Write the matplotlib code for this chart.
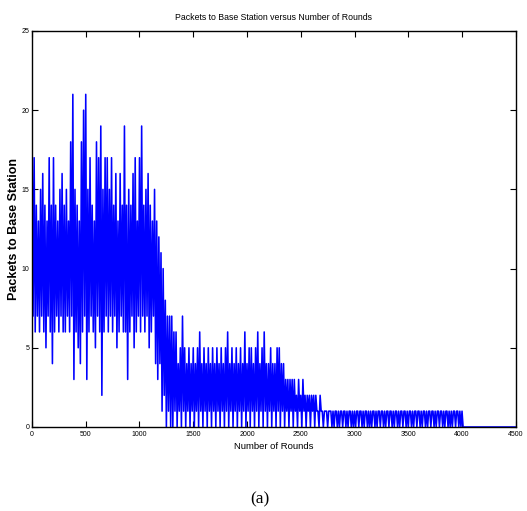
import numpy as np
import matplotlib
matplotlib.use("Agg")
import matplotlib.pyplot as plt

phase_high = [  # rounds 0 - 1140
    19, 7, 17, 6, 14, 7, 13, 6, 15, 7,
    16, 6, 14, 5, 13, 7, 17, 6, 14, 4,
    17, 6, 14, 7, 13, 6, 15, 7, 16, 6,
    14, 6, 15, 7, 13, 6, 18, 7, 21, 3,
    15, 6, 14, 5, 13, 4, 18, 6, 20, 7,
    21, 3, 15, 6, 17, 7, 14, 6, 13, 5,
    18, 7, 17, 6, 19, 2, 15, 6, 17, 7,
    17, 6, 15, 7, 17, 6, 14, 7, 16, 5,
    13, 6, 16, 7, 14, 6, 19, 6, 14, 3,
    15, 6, 14, 7, 16, 5, 17, 6, 13, 7,
    17, 6, 19, 7, 14, 6, 15, 7, 16, 5,
    14, 6, 13, 7, 15,
]
phase_drop = [  # rounds 1150 - 1290
    4, 13, 3, 12, 4, 11, 1, 10, 2, 8, 0, 7, 1, 7, 0,
]
phase_low = [  # rounds 1300 - 2790
    7, 0, 6, 1, 6, 0, 4, 1, 5, 0,
    7, 1, 5, 0, 4, 1, 5, 0, 4, 1,
    5, 0, 4, 1, 5, 0, 6, 1, 4, 0,
    5, 1, 4, 0, 5, 1, 4, 0, 5, 1,
    4, 0, 5, 1, 4, 0, 5, 1, 4, 0,
    5, 1, 6, 0, 4, 1, 5, 0, 4, 1,
    5, 0, 4, 1, 5, 0, 4, 1, 6, 0,
    4, 1, 5, 0, 5, 1, 4, 0, 5, 1,
    6, 0, 4, 1, 5, 0, 6, 1, 4, 0,
    4, 1, 5, 0, 4, 1, 4, 0, 5, 1,
    5, 0, 4, 1, 4, 0, 3, 1, 3, 0,
    3, 1, 3, 0, 3, 1, 2, 0, 3, 1,
    2, 0, 3, 1, 2, 0, 2, 1, 2, 0,
    2, 1, 2, 0, 2, 1, 1, 0, 2, 1,
    1, 0, 1, 1, 1, 0, 1, 1, 1, 0,
]
phase_tail = [  # rounds 2800 - 4000
    1, 0, 1, 1, 0, 1, 0, 1, 1, 0,
    1, 1, 0, 1, 0, 1, 1, 0, 1, 0,
    1, 0, 1, 1, 0, 1, 1, 0, 1, 0,
    1, 1, 0, 1, 0, 1, 0, 1, 1, 0,
    1, 0, 1, 1, 0, 1, 1, 0, 1, 0,
    1, 1, 0, 1, 1, 0, 1, 0, 1, 1,
    0, 1, 0, 1, 1, 0, 1, 1, 0, 1,
    0, 1, 1, 0, 1, 0, 1, 1, 0, 1,
    1, 0, 1, 0, 1, 1, 0, 1, 0, 1,
    1, 0, 1, 1, 0, 1, 0, 1, 1, 0,
    1, 1, 0, 1, 0, 1, 1, 0, 1, 0,
    1, 0, 1, 1, 0, 1, 1, 0, 1, 0,
    1,
]
end_rounds = [4010, 4500]
end_packets = [0, 0]

packets = phase_high + phase_drop + phase_low + phase_tail
rounds = list(np.arange(0, 10 * len(packets), 10)) + end_rounds
packets = packets + end_packets

sans = ['Liberation Sans', 'DejaVu Sans']

fig = plt.figure(figsize=(5.27, 5.11), dpi=100)
ax = fig.add_axes([0.0607, 0.1644, 0.918, 0.775])
ax.plot(rounds, packets, color='#0000ff', linewidth=1.15)

ax.set_xlim(0, 4500)
ax.set_ylim(0, 25)
ax.set_xticks(range(0, 4501, 500))
ax.set_yticks(range(0, 26, 5))
ax.tick_params(direction='in', top=True, right=True, length=4, width=0.8,
               labelsize=5, pad=3)
ax.tick_params(axis='y', pad=2)
for lab in ax.get_xticklabels() + ax.get_yticklabels():
    lab.set_family(sans)
for s in ax.spines.values():
    s.set_linewidth(1.0)

ax.set_title('Packets to Base Station versus Number of Rounds',
             family=sans, fontsize=6.3, pad=8)
ax.set_xlabel('Number of Rounds', family=sans, fontsize=6.8, labelpad=3)
ax.set_ylabel('Packets to Base Station', fontsize=9, fontweight='bold',
              labelpad=1, family=sans)

fig.text(0.494, 0.023, '(a)', family=['Liberation Serif', 'DejaVu Serif'],
         fontsize=12.5, ha='center', va='center')

fig.savefig('out.png', dpi=100)
